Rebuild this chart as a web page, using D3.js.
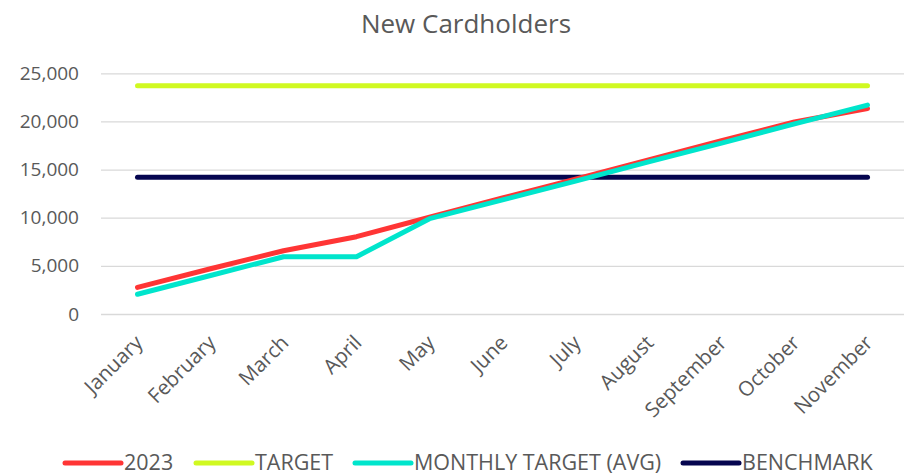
<!DOCTYPE html>
<html><head><meta charset="utf-8">
<script src="https://cdn.jsdelivr.net/npm/d3@7"></script>
<style>body{margin:0;background:#fff}text{font-family:"Open Sans",sans-serif;fill:#595959}</style>
</head><body><svg id="c" width="909" height="475"></svg>
<script>
const months = ["January","February","March","April","May","June","July","August","September","October","November"];
const actual2023 = [2770,4700,6570,8030,10050,12050,14000,16000,18000,19950,21350];
const target = [23700,23700,23700,23700,23700,23700,23700,23700,23700,23700,23700];
const monthlyTarget = [2050,4000,5950,5950,9900,11850,13800,15800,17750,19750,21700];
const benchmark = [14200,14200,14200,14200,14200,14200,14200,14200,14200,14200,14200];
const yTicks = [0,5000,10000,15000,20000,25000];
const seriesNames = ["2023","TARGET","MONTHLY TARGET (AVG)","BENCHMARK"];
const colors = ["#ff3535","#d0f921","#00e5cc","#05054f"];

const svg = d3.select("#c");
const x = d3.scalePoint().domain(months).range([101,904]).padding(0.5);
const y = d3.scaleLinear().domain([0,25000]).range([314,73.3]);

svg.append("text").attr("x",466).attr("y",33).attr("text-anchor","middle")
  .style("font-size","26px").text("New Cardholders");

const ya = svg.append("g").attr("transform","translate(101,0)")
  .call(d3.axisLeft(y).tickValues(yTicks).tickSize(-803).tickPadding(22).tickFormat(d3.format(",")));
ya.select(".domain").remove();
ya.selectAll("line").attr("stroke","#d9d9d9").attr("stroke-width",1.3);
ya.selectAll("text").style("font-size","19px").style("fill","#595959").attr("font-family","Open Sans");

const xa = svg.append("g").attr("transform","translate(0,314)")
  .call(d3.axisBottom(x).tickSize(0).tickPadding(0));
xa.select(".domain").remove();
xa.selectAll("text").style("font-size","20.5px").style("fill","#595959").attr("font-family","Open Sans")
  .attr("text-anchor","end").attr("dy",0).attr("y",0)
  .attr("transform","translate(6,30) rotate(-45)");

const allSeries = [actual2023,target,monthlyTarget,benchmark];
const line = d3.line().x((d,i)=>x(months[i])).y(d=>y(d));
const order = [1,3,0,2];
order.forEach(k=>{
  svg.append("path").datum(allSeries[k]).attr("d",line).attr("fill","none")
    .attr("stroke",colors[k]).attr("stroke-width",5).attr("stroke-linecap","round").attr("stroke-linejoin","round");
});

const legX = [65,196,355,683];
const lg = svg.append("g");
seriesNames.forEach((n,i)=>{
  lg.append("line").attr("x1",legX[i]).attr("x2",legX[i]+56).attr("y1",463).attr("y2",463)
    .attr("stroke",colors[i]).attr("stroke-width",5).attr("stroke-linecap","round");
  lg.append("text").attr("x",legX[i]+59).attr("y",470).style("font-size","21.5px").text(n);
});
</script></body></html>
